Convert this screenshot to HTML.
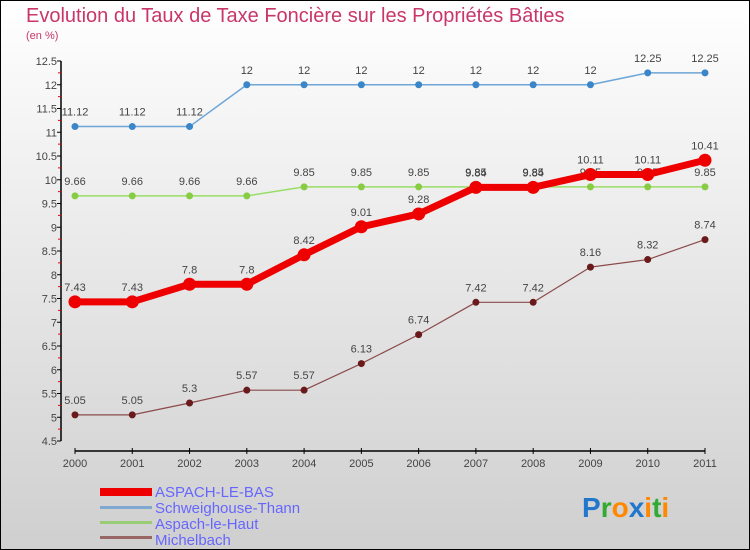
<!DOCTYPE html>
<html><head><meta charset="utf-8"><style>
body{margin:0}
svg{display:block;font-family:"Liberation Sans",sans-serif}
</style></head><body>
<svg id="c" width="750" height="550" viewBox="0 0 750 550">
<defs><linearGradient id="bg" x1="0" y1="0" x2="0" y2="1"><stop offset="0" stop-color="#ffffff"/><stop offset="1" stop-color="#cfcfcf"/></linearGradient></defs>
<rect x="0.5" y="0.5" width="749" height="549" fill="url(#bg)" stroke="#000"/>
<text x="26" y="22" font-size="20" fill="#c8366a">Evolution du Taux de Taxe Foncière sur les Propriétés Bâties</text>
<text x="26" y="39" font-size="11" fill="#c8366a">(en %)</text>
<g id="axes"></g>
<g id="series"></g>
<g>
<rect x="100" y="488" width="52" height="8" fill="#ee0000"/>
<text x="155" y="497" font-size="15" fill="#6666ff">ASPACH-LE-BAS</text>
<rect x="100" y="506" width="52" height="3" fill="#7fa8d0"/>
<text x="155" y="513" font-size="15" fill="#6666ff">Schweighouse-Thann</text>
<rect x="100" y="521" width="52" height="3" fill="#99cc77"/>
<text x="155" y="529" font-size="15" fill="#6666ff">Aspach-le-Haut</text>
<rect x="100" y="536" width="52" height="3" fill="#996666"/>
<text x="155" y="545" font-size="15" fill="#6666ff">Michelbach</text>
</g>
<g font-size="28" font-weight="bold">
<text x="582" y="517"><tspan fill="#2277cc">P</tspan><tspan fill="#33aa33">r</tspan><tspan fill="#ff8800">o</tspan><tspan fill="#2277cc">x</tspan><tspan fill="#ff8800">i</tspan><tspan fill="#33aa33">t</tspan><tspan fill="#ff8800">i</tspan></text>
</g>
</svg>
<script>
const years=["2000","2001","2002","2003","2004","2005","2006","2007","2008","2009","2010","2011"];
const yTicks=[4.5,5,5.5,6,6.5,7,7.5,8,8.5,9,9.5,10,10.5,11,11.5,12,12.5];
const schweighouse=[11.12,11.12,11.12,12,12,12,12,12,12,12,12.25,12.25];
const aspachHaut=[9.66,9.66,9.66,9.66,9.85,9.85,9.85,9.85,9.85,9.85,9.85,9.85];
const michelbach=[5.05,5.05,5.3,5.57,5.57,6.13,6.74,7.42,7.42,8.16,8.32,8.74];
const aspachBas=[7.43,7.43,7.8,7.8,8.42,9.01,9.28,9.84,9.84,10.11,10.11,10.41];
const NS="http://www.w3.org/2000/svg";
const X=i=>75+i*(630/11);
const Y=v=>441-(v-4.5)*47.5;
function mk(t,a,p){const e=document.createElementNS(NS,t);for(const k in a)e.setAttribute(k,a[k]);p.appendChild(e);return e;}
const ax=document.getElementById('axes');
let l=mk('line',{x1:61,y1:61,x2:61,y2:441,stroke:'#000','stroke-width':1.5},ax);


yTicks.forEach(v=>{
 mk('line',{x1:57,x2:61,y1:Y(v),y2:Y(v),stroke:'#000'},ax);
 if(v<12.5) mk('line',{x1:58,x2:61,y1:Y(v+0.25),y2:Y(v+0.25),stroke:'#e00'},ax);
 const t=mk('text',{x:57,y:Y(v)+4,'text-anchor':'end','font-size':11,fill:'#444'},ax);
 t.textContent=String(v);
 
 
});
l=mk('line',{x1:75,y1:451,x2:705,y2:451,stroke:'#000','stroke-width':1.5},ax);


years.forEach((y,i)=>{
 mk('line',{x1:X(i),x2:X(i),y1:448,y2:454,stroke:'#000'},ax);
 const t=mk('text',{x:X(i),y:467,'text-anchor':'middle','font-size':11,fill:'#444'},ax);
 t.textContent=y;
 
 
});
const sg=document.getElementById('series');
function draw(data,name,color,w,r,mc,lblDy){
 const g=mk('g',{},sg);
 
 
 const p=mk('polyline',{points:data.map((v,i)=>X(i)+','+Y(v)).join(' '),fill:'none',stroke:color,'stroke-width':w,'stroke-linejoin':'round'},g);
 
 
 data.forEach((v,i)=>{
  const c=mk('circle',{cx:X(i),cy:Y(v),r:r,fill:mc},g);
  
  
  const t=mk('text',{x:X(i),y:Y(v)+lblDy,'text-anchor':'middle','font-size':11,fill:'#444'},g);
  t.textContent=String(v);
  
  
 });
}
draw(schweighouse,'schweighouse','#6ea6d8',1.5,3.5,'#3a86c8',-11);
draw(aspachHaut,'aspach-le-haut','#99dd66',1.5,3.5,'#88cc44',-11);
draw(michelbach,'michelbach','#8b4a4a',1.2,3.5,'#6a1a1a',-11);
draw(aspachBas,'aspach-le-bas','#ee0000',7,6.5,'#ee0000',-11);
</script>
</body></html>
